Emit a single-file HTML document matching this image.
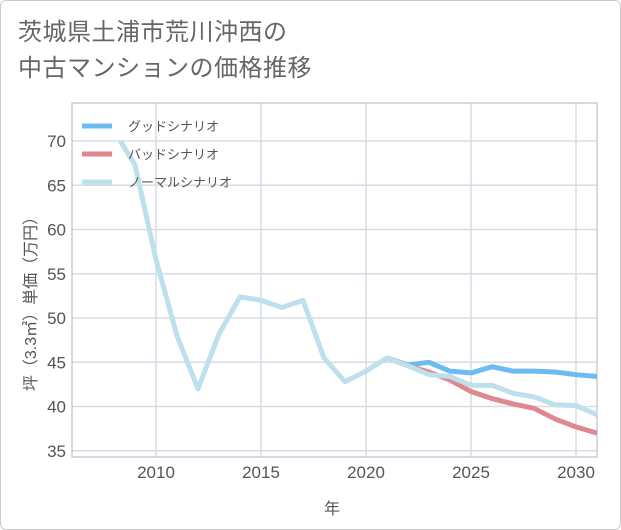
<!DOCTYPE html>
<html><head><meta charset="utf-8"><style>
body{margin:0;background:#fff;font-family:"Liberation Sans","Noto Sans CJK JP",sans-serif;}
.card{position:absolute;left:0;top:0;width:619px;height:528px;border:1px solid #ccc;border-radius:6px;background:#fff;}
.title{position:absolute;left:17px;top:14px;font-size:24px;line-height:36px;color:#666;letter-spacing:0.5px;}
</style></head><body>
<div class="card">
<div class="title">茨城県土浦市荒川沖西の<br>中古マンションの価格推移</div>
</div>
<svg id="c" width="621" height="530" style="position:absolute;left:0;top:0"></svg>
<script>
const years=[2008.3,2009,2010,2011,2012,2013,2014,2015,2016,2017,2018,2019,2020,2021,2022,2023,2024,2025,2026,2027,2028,2029,2030,2031];
const normal=[70,67.3,56.6,48,42,48.2,52.4,52,51.2,52,45.5,42.8,44,45.5,44.6,43.6,43.4,42.4,42.4,41.5,41.1,40.2,40.1,39.1];
const goodYears=[2021,2022,2023,2024,2025,2026,2027,2028,2029,2030,2031];
const good=[45.5,44.7,45,44,43.8,44.5,44,44,43.9,43.6,43.4];
const bad=[45.5,44.6,43.9,43,41.7,40.9,40.3,39.8,38.6,37.7,37];
const xTicks=[2010,2015,2020,2025,2030];
const yTicks=[35,40,45,50,55,60,65,70];
const L=72,R=597,T=103,B=457,x0=2006,x1=2031,y0=34.3,y1=74.3;
const X=v=>L+(v-x0)/(x1-x0)*(R-L);
const Y=v=>B-(v-y0)/(y1-y0)*(B-T);
const s=document.getElementById('c');
const NS='http://www.w3.org/2000/svg';
function mk(t,a,p){const e=document.createElementNS(NS,t);for(const k in a)e.setAttribute(k,a[k]);(p||s).appendChild(e);return e;}
for(const t of xTicks){const g=mk('line',{x1:X(t),x2:X(t),y1:T,y2:B,stroke:'#d5dde6','stroke-width':1.5});


const l=mk('text',{x:X(t),y:478,'text-anchor':'middle','font-size':17,fill:'#555'});l.textContent=t;

}
for(const t of yTicks){const g=mk('line',{x1:L,x2:R,y1:Y(t),y2:Y(t),stroke:'#d5dde6','stroke-width':1.5});


const l=mk('text',{x:66,y:Y(t)+6,'text-anchor':'end','font-size':17,fill:'#555'});l.textContent=t;

}
const fr=mk('rect',{x:L,y:T,width:R-L,height:B-T,fill:'none',stroke:'#aab4bf','stroke-width':1});


function line(xs,ys,c,n){const p=mk('polyline',{points:xs.map((v,i)=>X(v)+','+Y(ys[i])).join(' '),fill:'none',stroke:c,'stroke-width':5,'stroke-linejoin':'round'});

}
line(goodYears,good,'#6bbcf0','good-scenario-line');
line(goodYears,bad,'#e08890','bad-scenario-line');
line(years,normal,'#bde0ec','normal-scenario-line');
const leg=[['グッドシナリオ','#6bbcf0'],['バッドシナリオ','#e08890'],['ノーマルシナリオ','#bde0ec']];
leg.forEach((d,i)=>{const y=126+i*28;
const ln=mk('line',{x1:82,x2:112,y1:y,y2:y,stroke:d[1],'stroke-width':5});


const t=mk('text',{x:128,y:y+5,'font-size':13,fill:'#555'});t.textContent=d[0];

});
const xl=mk('text',{x:332,y:514,'text-anchor':'middle','font-size':16,fill:'#555'});xl.textContent='年';


const yl=mk('text',{x:0,y:0,'text-anchor':'middle','font-size':16,fill:'#555',transform:'translate(36,300) rotate(-90)'});yl.textContent='坪（3.3㎡）単価（万円）';


</script>
</body></html>
